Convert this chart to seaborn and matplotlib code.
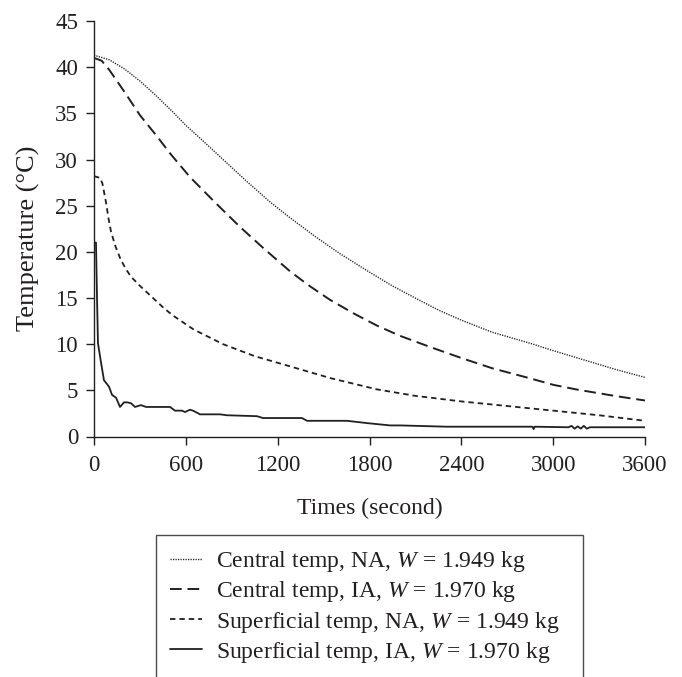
import numpy as np
import pandas as pd
import matplotlib
matplotlib.use("Agg")
import matplotlib.pyplot as plt
import seaborn as sns

# values
central_na_t = [0, 100, 200, 300, 400, 500, 600, 700, 843, 1000, 1150, 1280, 1450, 1607,
                1800, 1950, 2110, 2250, 2400, 2600, 2849, 3000, 3200, 3400, 3600]
central_na_T = [41.3, 40.8, 39.8, 38.5, 37.0, 35.4, 33.7, 32.2, 30.0, 27.6, 25.4, 23.7, 21.6, 19.8,
                17.8, 16.3, 14.9, 13.7, 12.6, 11.3, 10.1, 9.3, 8.3, 7.3, 6.4]

central_ia_t = [0, 50, 100, 200, 300, 412, 500, 627, 800, 954, 1100, 1280, 1400, 1542, 1700,
                1850, 2000, 2195, 2400, 2600, 2849, 3000, 3150, 3400, 3600]
central_ia_T = [41.0, 40.7, 39.7, 37.3, 34.8, 32.5, 30.6, 28.1, 25.2, 22.7, 20.5, 17.9, 16.4, 14.8, 13.3,
                12.0, 10.9, 9.7, 8.5, 7.4, 6.3, 5.6, 5.1, 4.4, 3.9]

surf_na_t = [0, 40, 55, 78, 95, 111, 140, 176, 210, 242, 301, 379, 450, 516, 650, 843, 1050,
             1280, 1550, 1850, 2100, 2400, 2700, 3000, 3300, 3600]
surf_na_T = [28.2, 28.0, 27.4, 25.4, 23.6, 22.2, 20.6, 19.1, 18.1, 17.3, 16.3, 15.1, 14.0, 13.1, 11.6, 10.0, 8.7,
             7.6, 6.3, 5.1, 4.4, 3.8, 3.3, 2.8, 2.3, 1.7]

surf_ia_t = [0, 13, 20, 26, 46, 65, 98, 118, 144, 170, 196, 216, 242, 268, 307, 340, 392,
             497, 529, 575, 595, 627, 647, 693, 823, 869, 1065, 1104, 1359, 1392, 1653,
             1784, 1934, 2000, 2306, 2866, 2872, 2880, 3100, 3120, 3140, 3160, 3180, 3200,
             3220, 3240, 3600]
surf_ia_T = [21.0, 21.0, 14.8, 10.1, 8.0, 6.1, 5.4, 4.5, 4.2, 3.2, 3.7, 3.7, 3.6, 3.2, 3.4, 3.2, 3.2,
             3.2, 2.8, 2.8, 2.65, 2.9, 2.8, 2.4, 2.4, 2.3, 2.2, 2.0, 2.0, 1.7, 1.7,
             1.45, 1.2, 1.2, 1.06, 1.06, 0.8, 1.06, 1.0, 1.15, 0.85, 1.1, 0.85, 1.15,
             0.85, 1.0, 1.0]

labels = [
    "Central temp, NA, $W$ = 1.949 kg",
    "Central temp, IA, $W$ = 1.970 kg",
    "Superficial temp, NA, $W$ = 1.949 kg",
    "Superficial temp, IA, $W$ = 1.970 kg",
]
x_ticks = [0, 600, 1200, 1800, 2400, 3000, 3600]

sns.set_style("ticks")
plt.rcParams["font.family"] = ["Liberation Serif", "DejaVu Serif"]
plt.rcParams["mathtext.fontset"] = "custom"
plt.rcParams["mathtext.it"] = "Liberation Serif:italic"
plt.rcParams["mathtext.rm"] = "Liberation Serif"

ink = "#231f20"
fig = plt.figure(figsize=(6.82, 6.77), dpi=100)
ax = fig.add_axes([94 / 682, 1 - 436.5 / 677, (645 - 94) / 682, (436.5 - 21) / 677])

sns.lineplot(x=central_na_t, y=central_na_T, ax=ax, color=ink, lw=1.0,
             linestyle=(0, (0.9, 0.9)), label=labels[0])
sns.lineplot(x=central_ia_t, y=central_ia_T, ax=ax, color=ink, lw=1.4,
             linestyle=(0, (6, 3)), label=labels[1])
sns.lineplot(x=surf_na_t, y=surf_na_T, ax=ax, color=ink, lw=1.3,
             linestyle=(0, (3, 2.2)), label=labels[2])
sns.lineplot(x=surf_ia_t, y=surf_ia_T, ax=ax, color=ink, lw=1.3,
             linestyle="-", label=labels[3])

ax.set_xlim(0, 3600)
ax.set_ylim(0, 45)
ax.set_xticks(x_ticks)
ax.set_yticks(range(0, 46, 5))
ax.tick_params(labelsize=16.5, length=5.5, width=1, color=ink, labelcolor=ink, direction="out")
ax.tick_params(axis="y", pad=6)
ax.tick_params(axis="x", pad=8)
for s in ["left", "bottom"]:
    ax.spines[s].set_color(ink)
    ax.spines[s].set_linewidth(1)
sns.despine(ax=ax)
ax.set_xlabel("Times (second)", fontsize=17, color=ink)
ax.set_ylabel("Temperature (°C)", fontsize=19, color=ink)
ax.xaxis.set_label_coords(0.5, -0.148)
ax.yaxis.set_label_coords(-0.098, 0.478)

h, l = ax.get_legend_handles_labels()
ax.get_legend().remove()
leg_top = 1 - 535 / 677
leg = fig.legend(h, l, loc="upper left",
                 bbox_to_anchor=(156 / 682, leg_top - 0.3, (583 - 156) / 682, 0.3),
                 mode="expand", fontsize=17, frameon=True, fancybox=False, edgecolor=ink,
                 handlelength=1.35, handletextpad=0.6, borderpad=0.6, labelspacing=0.22,
                 borderaxespad=0)
leg.get_frame().set_linewidth(1)
for t in leg.get_texts():
    t.set_color(ink)

fig.savefig("out.png", dpi=100)
